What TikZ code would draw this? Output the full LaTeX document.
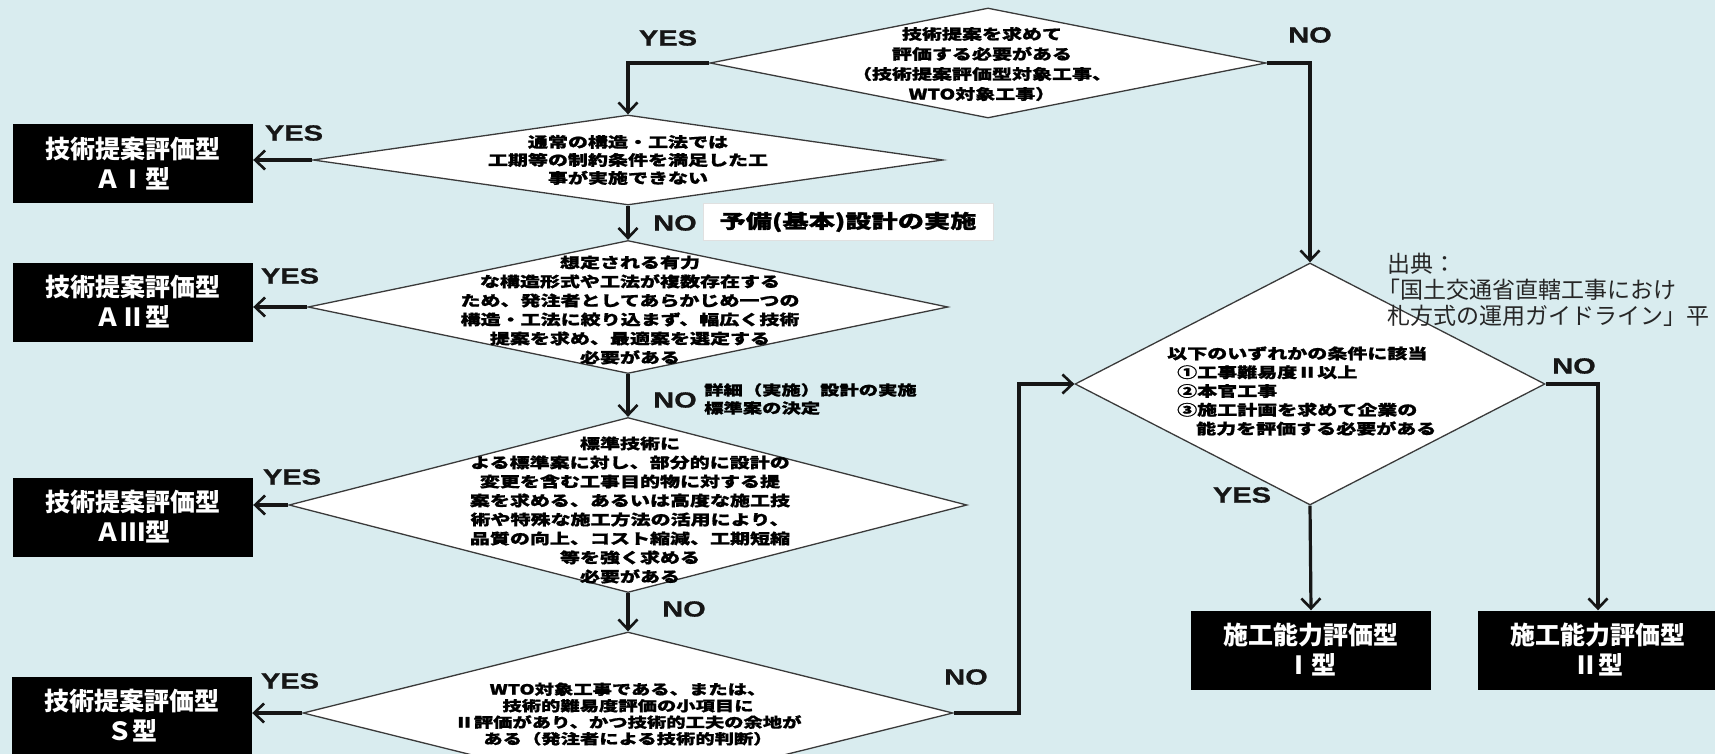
\documentclass[tikz,border=0pt]{standalone}
\usepackage{fontspec}
\usetikzlibrary{shapes.geometric,arrows.meta}
% fonts: wide heavy Gothic for the decision texts, plain Gothic for boxes and notes
\newfontfamily\jpwide[FakeStretch=1.38,FakeBold=1.2]{Noto Sans CJK JP}
\newfontfamily\jp{Noto Sans CJK JP}
\newfontfamily\yesno[FakeStretch=1.32,FakeBold=0.8]{Liberation Sans}
\definecolor{bgc}{HTML}{D9ECEF}
\definecolor{edge}{HTML}{3A3A3A}
\definecolor{ink}{HTML}{161616}
\definecolor{note}{HTML}{262626}

\begin{document}
\begin{tikzpicture}[x=1pt,y=-1pt,
  dia/.style={diamond, draw=edge, line width=1.3pt, fill=white, inner sep=0pt},
  dtext/.style={font=\jpwide\bfseries\fontsize{14.5}{19}\selectfont, align=center, inner sep=0pt, text=black},
  outbox/.style={fill=black, text=white, font=\jp\bfseries\fontsize{25}{30}\selectfont,
                 align=center, inner sep=0pt, minimum width=240pt, minimum height=79pt},
  yn/.style={font=\yesno\bfseries\fontsize{22}{22}\selectfont, inner sep=0pt, text=ink},
  flow/.style={draw=ink, line width=3.2pt,
               -{Straight Barb[length=10pt,width=19pt,line width=2.6pt]}},
]
% canvas
\fill[bgc] (0,0) rectangle (1715,754);
\useasboundingbox (0,0) rectangle (1715,754);

% ---- decision diamonds ----
\node[dia, minimum width=556pt, minimum height=110pt] (q1) at (988,63) {};
\node[dtext, font=\jpwide\bfseries\fontsize{14.5}{20}\selectfont] (q1t) at (982,64)
  {技術提案を求めて\\評価する必要がある\\（技術提案評価型対象工事、\\WTO対象工事）};

\node[dia, minimum width=630pt, minimum height=90pt] (q2) at (628,160) {};
\node[dtext, font=\jpwide\bfseries\fontsize{14.5}{18}\selectfont] (q2t) at (628,160)
  {通常の構造・工法では\\工期等の制約条件を満足した工\\事が実施できない};

\node[dia, minimum width=640pt, minimum height=133pt] (q3) at (628,307) {};
\node[dtext] (q3t) at (630,310)
  {想定される有力\\な構造形式や工法が複数存在する\\ため、発注者としてあらかじめ一つの\\構造・工法に絞り込まず、幅広く技術\\提案を求め、最適案を選定する\\必要がある};

\node[dia, minimum width=678pt, minimum height=175pt] (q4) at (628,505) {};
\node[dtext] (q4t) at (630,510)
  {標準技術に\\よる標準案に対し、部分的に設計の\\変更を含む工事目的物に対する提\\案を求める、あるいは高度な施工技\\術や特殊な施工方法の活用により、\\品質の向上、コスト縮減、工期短縮\\等を強く求める\\必要がある};

\node[dia, minimum width=650pt, minimum height=162pt] (q5) at (628,713) {};
\node[dtext, font=\jpwide\bfseries\fontsize{14}{16.5}\selectfont] (q5t) at (628,714)
  {WTO対象工事である、または、\\技術的難易度評価の小項目に\\Ⅱ評価があり、かつ技術的工夫の余地が\\ある（発注者による技術的判断）};

\node[dia, minimum width=470pt, minimum height=242pt] (r1) at (1310,384) {};
\node[dtext, align=left, anchor=west, font=\jpwide\bfseries\fontsize{14.5}{18.8}\selectfont] (r1t) at (1167,391)
  {以下のいずれかの条件に該当\\\hspace*{10pt}①工事難易度Ⅱ以上\\\hspace*{10pt}②本官工事\\\hspace*{10pt}③施工計画を求めて企業の\\\hspace*{29pt}能力を評価する必要がある};

% ---- result boxes ----
\node[outbox] (a1) at (133,164) {技術提案評価型\\ＡⅠ型};
\node[outbox] (a2) at (133,302) {技術提案評価型\\ＡⅡ型};
\node[outbox] (a3) at (133,517) {技術提案評価型\\ＡⅢ型};
\node[outbox] (a4) at (132,716) {技術提案評価型\\Ｓ型};
\node[outbox] (b1) at (1311,650) {施工能力評価型\\Ⅰ型};
\node[outbox] (b2) at (1598,650) {施工能力評価型\\Ⅱ型};

% ---- notes beside the main line ----
\node[draw=black!12, fill=white, line width=0.8pt, minimum width=290pt, minimum height=37pt,
      inner sep=0pt, font=\jpwide\bfseries\fontsize{19}{21}\selectfont] (pre) at (848,222)
  {予備(基本)設計の実施};
\node[dtext, align=left, anchor=west, font=\jpwide\bfseries\fontsize{14}{18}\selectfont] (det) at (704,399)
  {詳細（実施）設計の実施\\標準案の決定};

\node[anchor=north west, align=left, inner sep=0pt, text=note,
      font=\jp\fontsize{23}{26}\selectfont] (src) at (1387,253)
  {出典：\\\hspace*{-10pt}「国土交通省直轄工事におけ\\札方式の運用ガイドライン」平};

% ---- connectors ----
\coordinate (j5) at (1019,713);
\draw[flow] (q1.west) -| (q2.north);
\draw[flow] (q1.east) -| (r1.north);
\draw[flow] (q2.south) -- (q3.north);
\draw[flow] (q3.south) -- (q4.north);
\draw[flow] (q4.south) -- (q5.north);
\draw[flow] (q2.west) -- (q2.west -| a1.east);
\draw[flow] (q3.west) -- (q3.west -| a2.east);
\draw[flow] (q4.west) -- (q4.west -| a3.east);
\draw[flow] (q5.west) -- (q5.west -| a4.east);
\draw[flow] (q5.east) -- (j5) |- (r1.west);
\draw[flow] (r1.south) -- (b1.north);
\draw[flow] (r1.east) -| (b2.north);

% ---- YES / NO labels ----
\node[yn] (l1) at (668,38) {YES};
\node[yn] (l2) at (1310,35) {NO};
\node[yn] (l3) at (294,133) {YES};
\node[yn] (l4) at (675,223) {NO};
\node[yn] (l5) at (290,276) {YES};
\node[yn] (l6) at (675,400) {NO};
\node[yn] (l7) at (292,477) {YES};
\node[yn] (l8) at (684,609) {NO};
\node[yn] (l9) at (290,681) {YES};
\node[yn] (l10) at (966,677) {NO};
\node[yn] (l11) at (1242,495) {YES};
\node[yn] (l12) at (1574,366) {NO};
\end{tikzpicture}
\end{document}
